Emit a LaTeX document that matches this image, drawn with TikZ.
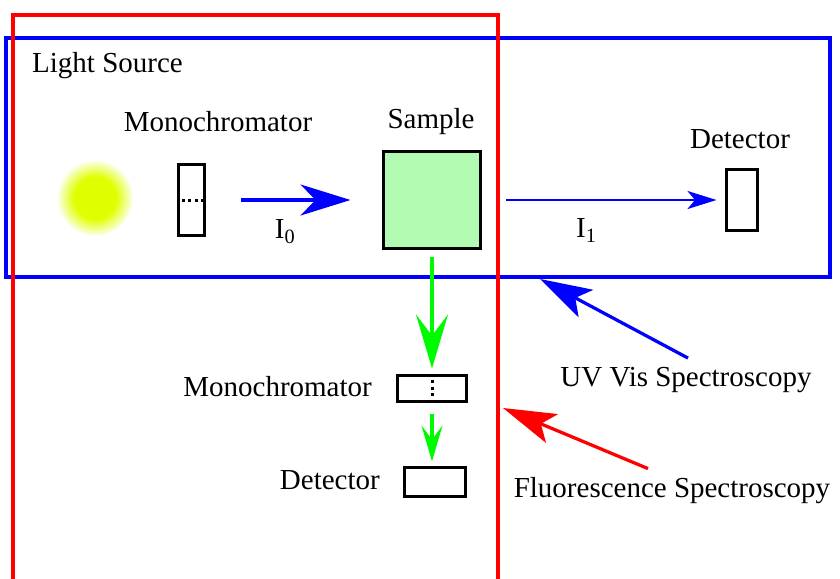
\documentclass[tikz,border=0pt]{standalone}
\usepackage{fontspec}
\setmainfont{Liberation Serif}
\usetikzlibrary{arrows.meta,positioning}

\definecolor{colorBlue}{HTML}{0000FF}
\definecolor{colorRed}{HTML}{FF0000}
\definecolor{colorGreen}{HTML}{00FA00}
\definecolor{colorSample}{HTML}{B3FAB3}
\definecolor{colorSource}{HTML}{DFFF00}
\def\colorBlue{colorBlue}
\def\colorRed{colorRed}
\def\colorGreen{colorGreen}

% halo de la source : coeur plein puis fondu vers le blanc
\pgfdeclareradialshading{halo}{\pgfpointorigin}{color(0bp)=(colorSource); color(14bp)=(colorSource); color(26bp)=(white); color(50bp)=(white)}

\tikzset{
    boite/.style = {draw=black, line width=0.06cm, inner sep=0pt},
    texte/.style = {draw=none, fill=none, align=center},
    pointilles/.style = {line width=0.06cm, dotted},
}

\begin{document}
\begin{tikzpicture}[x=0.02cm, y=-0.02cm, font=\fontsize{16.5pt}{20pt}\selectfont]

    \useasboundingbox (0,0) rectangle (840,579);

    % Cadre bleu (UV Vis)
    \draw[line width=0.065cm, color=\colorBlue] (6,38) rectangle (830,277);

    % Cadre rouge (fluorescence), ouvert en bas
    \draw[line width=0.065cm, color=\colorRed] (13,600) -- (13,15) -- (498,15) -- (498,600);

    \node[texte, anchor=west] (titre) at (26,66) {Light Source};

    % Source lumineuse
    \node[circle, minimum size=1.5cm, shading=halo] (source) at (95,198) {};

    % Premier monochromateur
    \node[boite, minimum width=0.54cm, minimum height=1.42cm] (mono1) at (191.5,200) {};
    \draw[pointilles] ([xshift=0.1cm]mono1.west) -- (mono1.east);
    \node[texte] (monotxt1) at (218,122) {Monochromator};

    % Echantillon
    \node[boite, fill=colorSample, minimum size=1.96cm] (sample) at (432,200) {};
    \node[texte] (sampletxt) at (431,122) {Sample};

    % Detecteur (transmission)
    \node[boite, minimum width=0.64cm, minimum height=1.22cm] (det1) at (742,200) {};
    \node[texte] (dettxt1) at (740,139) {Detector};

    % Second monochromateur et detecteur (emission)
    \node[boite, minimum width=1.4cm, minimum height=0.52cm] (mono2) at (432,388) {};
    \draw[pointilles] (mono2.north) -- (mono2.south);
    \node[texte, anchor=east] (monotxt2) at (378,387) {Monochromator};

    \node[boite, minimum width=1.24cm, minimum height=0.58cm] (det2) at (435,481.5) {};
    \node[texte, anchor=east] (dettxt2) at (386,480) {Detector};

    % Faisceaux
    \draw[line width=0.065cm, color=\colorBlue, shorten <=0.7cm, shorten >=0.62cm,
          -{Stealth[length=1cm, width=0.62cm, inset=0.3cm]}]
        (mono1) -- (sample) node[texte, pos=0.45, below=0.24cm, black] (izero) {I\textsubscript{0}};

    \draw[line width=0.045cm, color=\colorBlue, shorten <=0.48cm, shorten >=0.16cm,
          -{Stealth[length=0.58cm, width=0.36cm, inset=0.15cm]}]
        (sample) -- (det1) node[texte, pos=0.43, below=0.24cm, black] (ione) {I\textsubscript{1}};

    \draw[line width=0.065cm, color=\colorGreen, shorten <=0.14cm, shorten >=0.1cm,
          -{Stealth[length=1.08cm, width=0.64cm, inset=0.42cm]}]
        (sample) -- (mono2);

    \draw[line width=0.065cm, color=\colorGreen, shorten <=0.22cm, shorten >=0.08cm,
          -{Stealth[length=0.72cm, width=0.42cm, inset=0.28cm]}]
        (mono2.south) -- (mono2.south |- det2.north);

    % Legendes des deux methodes
    \node[texte] (uvtxt) at (686,380) {UV Vis Spectroscopy};
    \coordinate (uvpoint) at (540,279);
    \draw[line width=0.065cm, color=\colorBlue, -{Stealth[length=1.04cm, width=0.62cm, inset=0.24cm]}]
        ([xshift=0.04cm, yshift=0.06cm]uvtxt.north) -- (uvpoint);

    \node[texte] (fluotxt) at (672,491) {Fluorescence Spectroscopy};
    \coordinate (fluopoint) at (503,408);
    \draw[line width=0.065cm, color=\colorRed, -{Stealth[length=1.06cm, width=0.62cm, inset=0.24cm]}]
        ([xshift=-0.48cm, yshift=0.06cm]fluotxt.north) -- (fluopoint);

\end{tikzpicture}
\end{document}
